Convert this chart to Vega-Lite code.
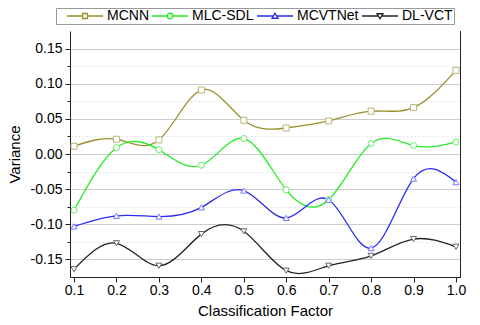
{
  "$schema": "https://vega.github.io/schema/vega-lite/v6.json",
  "width": 390,
  "height": 246,
  "autosize": {"type": "none"},
  "padding": {"left": 70, "top": 31, "right": 20, "bottom": 48},
  "background": "white",
  "config": {
    "font": "Liberation Sans",
    "view": {"stroke": null},
    "axis": {"labelFont": "Liberation Sans", "titleFont": "Liberation Sans", "labelColor": "#000", "titleColor": "#000", "titleFontWeight": "normal", "domainColor": "#222", "tickColor": "#222", "labelFontSize": 14, "titleFontSize": 15}
  },
  "data": {"values": [
    {"model": "MCNN", "x": 0.1, "y": 0.011},
    {"model": "MCNN", "x": 0.2, "y": 0.021},
    {"model": "MCNN", "x": 0.3, "y": 0.020},
    {"model": "MCNN", "x": 0.4, "y": 0.091},
    {"model": "MCNN", "x": 0.5, "y": 0.048},
    {"model": "MCNN", "x": 0.6, "y": 0.037},
    {"model": "MCNN", "x": 0.7, "y": 0.047},
    {"model": "MCNN", "x": 0.8, "y": 0.061},
    {"model": "MCNN", "x": 0.9, "y": 0.066},
    {"model": "MCNN", "x": 1.0, "y": 0.119},
    {"model": "MLC-SDL", "x": 0.1, "y": -0.080},
    {"model": "MLC-SDL", "x": 0.2, "y": 0.009},
    {"model": "MLC-SDL", "x": 0.3, "y": 0.006},
    {"model": "MLC-SDL", "x": 0.4, "y": -0.016},
    {"model": "MLC-SDL", "x": 0.5, "y": 0.022},
    {"model": "MLC-SDL", "x": 0.6, "y": -0.051},
    {"model": "MLC-SDL", "x": 0.7, "y": -0.065},
    {"model": "MLC-SDL", "x": 0.8, "y": 0.015},
    {"model": "MLC-SDL", "x": 0.9, "y": 0.012},
    {"model": "MLC-SDL", "x": 1.0, "y": 0.017},
    {"model": "MCVTNet", "x": 0.1, "y": -0.103},
    {"model": "MCVTNet", "x": 0.2, "y": -0.088},
    {"model": "MCVTNet", "x": 0.3, "y": -0.089},
    {"model": "MCVTNet", "x": 0.4, "y": -0.076},
    {"model": "MCVTNet", "x": 0.5, "y": -0.052},
    {"model": "MCVTNet", "x": 0.6, "y": -0.091},
    {"model": "MCVTNet", "x": 0.7, "y": -0.065},
    {"model": "MCVTNet", "x": 0.8, "y": -0.134},
    {"model": "MCVTNet", "x": 0.9, "y": -0.035},
    {"model": "MCVTNet", "x": 1.0, "y": -0.040},
    {"model": "DL-VCT", "x": 0.1, "y": -0.164},
    {"model": "DL-VCT", "x": 0.2, "y": -0.127},
    {"model": "DL-VCT", "x": 0.3, "y": -0.159},
    {"model": "DL-VCT", "x": 0.4, "y": -0.114},
    {"model": "DL-VCT", "x": 0.5, "y": -0.110},
    {"model": "DL-VCT", "x": 0.6, "y": -0.166},
    {"model": "DL-VCT", "x": 0.7, "y": -0.159},
    {"model": "DL-VCT", "x": 0.8, "y": -0.145},
    {"model": "DL-VCT", "x": 0.9, "y": -0.121},
    {"model": "DL-VCT", "x": 1.0, "y": -0.132}
  ]},
  "layer": [
    {
      "mark": {"type": "line", "interpolate": "natural", "strokeWidth": 1.3},
      "encoding": {
        "x": {"field": "x", "type": "quantitative", "scale": {"domain": [0.0905, 1.0095], "nice": false, "zero": false},
          "axis": {"title": "Classification Factor", "values": [0.1,0.15,0.2,0.25,0.3,0.35,0.4,0.45,0.5,0.55,0.6,0.65,0.7,0.75,0.8,0.85,0.9,0.95,1.0],
            "labelExpr": "abs(datum.value*10 - round(datum.value*10)) > 0.1 ? '' : format(datum.value, '.1f')",
            "tickSize": {"condition": {"test": "abs(datum.value*10 - round(datum.value*10)) > 0.1", "value": 3}, "value": 5},
            "grid": false, "labelPadding": 1, "titlePadding": 6, "labelFlush": false}},
        "y": {"field": "y", "type": "quantitative", "scale": {"domain": [-0.175, 0.175], "nice": false, "zero": false},
          "axis": {"title": "Variance", "values": [-0.15,-0.125,-0.1,-0.075,-0.05,-0.025,0,0.025,0.05,0.075,0.1,0.125,0.15],
            "labelExpr": "abs(datum.value*20 - round(datum.value*20)) > 0.1 ? '' : (datum.value < -0.0001 ? '-' : '') + format(abs(datum.value), '.2f')",
            "tickSize": {"condition": {"test": "abs(datum.value*20 - round(datum.value*20)) > 0.1", "value": 3}, "value": 5},
            "grid": true,
            "gridColor": {"condition": {"test": "abs(datum.value*20 - round(datum.value*20)) > 0.1", "value": "#e4e4e4"}, "value": "#cccccc"},
            "gridDash": {"condition": {"test": "abs(datum.value*20 - round(datum.value*20)) > 0.1", "value": [2, 2]}, "value": []},
            "labelPadding": 3, "titlePadding": 8}},
        "color": {"field": "model", "type": "nominal", "sort": ["MCNN", "MLC-SDL", "MCVTNet", "DL-VCT"],
          "scale": {"domain": ["MCNN", "MLC-SDL", "MCVTNet", "DL-VCT"], "range": ["#9a8f2c", "#22ee22", "#2a2af0", "#222222"]},
          "legend": {"title": " ", "titleOrient": "left", "titlePadding": 8, "titleFontSize": 14, "orient": "none", "legendX": -14, "legendY": -23, "direction": "horizontal", "columns": 4,
            "strokeColor": "#999", "padding": 1, "labelFontSize": 14, "labelFont": "Liberation Sans", "labelColor": "#000",
            "symbolSize": 100, "symbolStrokeWidth": 1.3, "labelOffset": 28, "columnPadding": 0, "rowPadding": 0, "symbolType": "M-1,0H6.2",
            "encode": {"symbols": {"update": {"shape": {"signal": "datum.value === 'MCNN' ? 'M-1,0H2.1M3.1,0H6.2M2.1,-0.5H3.1V0.5H2.1Z' : datum.value === 'MLC-SDL' ? 'M-1,0H2.05M3.15,0H6.2M2.05,0A0.55,0.55,0,1,1,3.15,0A0.55,0.55,0,1,1,2.05,0' : datum.value === 'MCVTNet' ? 'M-1,0H2.27M2.93,0H6.2M2.6,-0.55L3.2,0.45H2.0Z' : 'M-1,0H2.27M2.93,0H6.2M2.6,0.55L3.2,-0.45H2.0Z'"}}}}}},
        "detail": {"field": "model"}
      }
    },
    {
      "transform": [{"filter": "datum.model === 'MCNN'"}],
      "mark": {"type": "point", "shape": "square", "filled": true, "fill": "white", "stroke": "#bdb47a", "strokeWidth": 1, "size": 36, "opacity": 1},
      "encoding": {"x": {"field": "x", "type": "quantitative"},
        "y": {"field": "y", "type": "quantitative", "axis": {"orient": "right", "labels": false, "ticks": false, "grid": false, "title": null, "domainColor": "#222"}}}
    },
    {
      "transform": [{"filter": "datum.model === 'MLC-SDL'"}],
      "mark": {"type": "point", "shape": "circle", "filled": true, "fill": "white", "stroke": "#66ee66", "strokeWidth": 1, "size": 36, "opacity": 1},
      "encoding": {"x": {"field": "x", "type": "quantitative"},
        "y": {"field": "y", "type": "quantitative", "axis": {"orient": "right", "labels": false, "ticks": false, "grid": false, "title": null, "domainColor": "#222"}}}
    },
    {
      "transform": [{"filter": "datum.model === 'MCVTNet'"}],
      "mark": {"type": "point", "shape": "triangle-up", "filled": true, "fill": "white", "stroke": "#7777ff", "strokeWidth": 1, "size": 36, "opacity": 1},
      "encoding": {"x": {"field": "x", "type": "quantitative"},
        "y": {"field": "y", "type": "quantitative", "axis": {"orient": "right", "labels": false, "ticks": false, "grid": false, "title": null, "domainColor": "#222"}}}
    },
    {
      "transform": [{"filter": "datum.model === 'DL-VCT'"}],
      "mark": {"type": "point", "shape": "triangle-down", "filled": true, "fill": "white", "stroke": "#666666", "strokeWidth": 1, "size": 36, "opacity": 1},
      "encoding": {"x": {"field": "x", "type": "quantitative"},
        "y": {"field": "y", "type": "quantitative", "axis": {"orient": "right", "labels": false, "ticks": false, "grid": false, "title": null, "domainColor": "#222"}}}
    }
  ],
  "resolve": {"axis": {"y": "independent"}}
}
